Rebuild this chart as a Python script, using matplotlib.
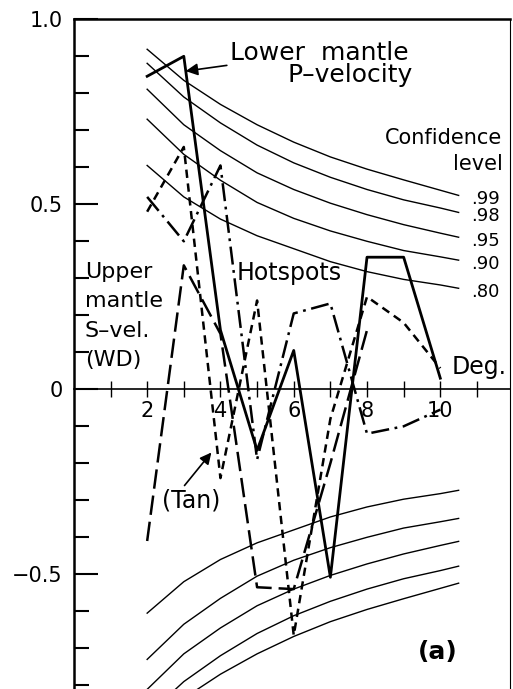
import numpy as np
import matplotlib
matplotlib.use("Agg")
import matplotlib.pyplot as plt

plt.rcParams['font.family'] = ['DejaVu Sans']
plt.rcParams['lines.scale_dashes'] = False

# spherical harmonic degree
deg = [2, 3, 4, 5, 6, 7, 8, 9, 10]

# correlation with the geoid, per degree
lower_mantle_p = [0.846, 0.90, 0.16, -0.165, 0.105, -0.508, 0.357, 0.357, 0.03]
upper_wd_deg = [2, 3, 4, 5, 6, 7, 8]
upper_wd = [-0.41, 0.335, 0.15, -0.535, -0.54, -0.2, 0.16]
upper_tan = [0.48, 0.655, -0.24, 0.24, -0.665, -0.08, 0.25, 0.18, 0.057]
hotspots = [0.52, 0.40, 0.605, -0.19, 0.205, 0.232, -0.12, -0.10, -0.055]

# confidence level curves
conf_deg = [2, 3, 4, 5, 6, 7, 8, 9, 10, 10.5]
conf_levels = ['.99', '.98', '.95', '.90', '.80']
conf_99 = [0.919, 0.835, 0.770, 0.715, 0.668, 0.628, 0.595, 0.566, 0.538, 0.524]
conf_98 = [0.881, 0.790, 0.720, 0.660, 0.612, 0.573, 0.540, 0.512, 0.490, 0.478]
conf_95 = [0.811, 0.715, 0.645, 0.585, 0.540, 0.503, 0.472, 0.445, 0.422, 0.411]
conf_90 = [0.730, 0.635, 0.565, 0.505, 0.462, 0.428, 0.400, 0.375, 0.358, 0.349]
conf_80 = [0.605, 0.520, 0.460, 0.415, 0.380, 0.345, 0.318, 0.297, 0.282, 0.273]
conf_curves = [conf_99, conf_98, conf_95, conf_90, conf_80]

fig = plt.figure(figsize=(5.13, 6.89), dpi=100)
ax = fig.add_axes([0.144, 0.0, 0.85, 0.972])

for c in conf_curves:
    ax.plot(conf_deg, c, color='black', lw=1.0)
    ax.plot(conf_deg, [-v for v in c], color='black', lw=1.0)

ax.plot(deg, lower_mantle_p, color='black', lw=2.0)
ax.plot(upper_wd_deg, upper_wd, color='black', lw=1.8, dashes=(14, 5))
ax.plot(deg, upper_tan, color='black', lw=1.8, dashes=(6, 4))
ax.plot(deg, hotspots, color='black', lw=1.8, dashes=(13, 4, 2, 4))

ax.set_xlim(0, 11.9)
ax.set_ylim(-0.81, 1.0)

ax.spines['bottom'].set_position(('data', 0))
ax.spines['bottom'].set_linewidth(1.2)
ax.spines['left'].set_linewidth(1.8)
ax.spines['top'].set_linewidth(1.8)
ax.spines['right'].set_linewidth(0.8)

ax.set_xticks(range(1, 12))
ax.set_xticklabels(['', '2', '', '4', '', '6', '', '8', '', '10', ''])
ax.tick_params(axis='x', direction='inout', length=11, width=1.0, labelsize=15, pad=3)

ax.set_yticks([-0.5, 0, 0.5, 1.0])
ax.set_yticklabels(['\u22120.5', '0', '0.5', '1.0'])
ax.set_yticks(np.arange(-0.8, 1.0, 0.1), minor=True)
ax.tick_params(axis='y', which='major', direction='in', length=17, width=1.5, labelsize=15, pad=8)
ax.tick_params(axis='y', which='minor', direction='in', length=11, width=1.5)

for lbl, c in zip(conf_levels, conf_curves):
    ax.text(10.85, c[-1] - 0.01, lbl, fontsize=13, ha='left', va='center')

ax.text(11.7, 0.68, 'Confidence', fontsize=15, ha='right', va='center')
ax.text(11.7, 0.61, 'level', fontsize=15, ha='right', va='center')

ax.annotate('Lower  mantle', xy=(3.05, 0.86), xytext=(4.25, 0.91), fontsize=18,
            ha='left', va='center',
            arrowprops=dict(arrowstyle='-|>', color='black', lw=1.2, shrinkA=0, shrinkB=0))
ax.text(9.25, 0.85, 'P\u2013velocity', fontsize=18, ha='right', va='center')

ax.text(0.3, 0.345, 'Upper\nmantle\nS\u2013vel.\n(WD)', fontsize=16, ha='left', va='top',
        linespacing=1.6)
ax.text(4.45, 0.315, 'Hotspots', fontsize=17, ha='left', va='center')
ax.text(10.3, 0.06, 'Deg.', fontsize=17, ha='left', va='center')
ax.annotate('(Tan)', xy=(3.8, -0.165), xytext=(2.4, -0.30), fontsize=17,
            ha='left', va='center',
            arrowprops=dict(arrowstyle='-|>', color='black', lw=1.2, shrinkA=0, shrinkB=2,
                            relpos=(0.35, 1.0)))
ax.text(9.4, -0.71, '(a)', fontsize=18, fontweight='bold', ha='left', va='center')

fig.savefig('out.png', dpi=100)
